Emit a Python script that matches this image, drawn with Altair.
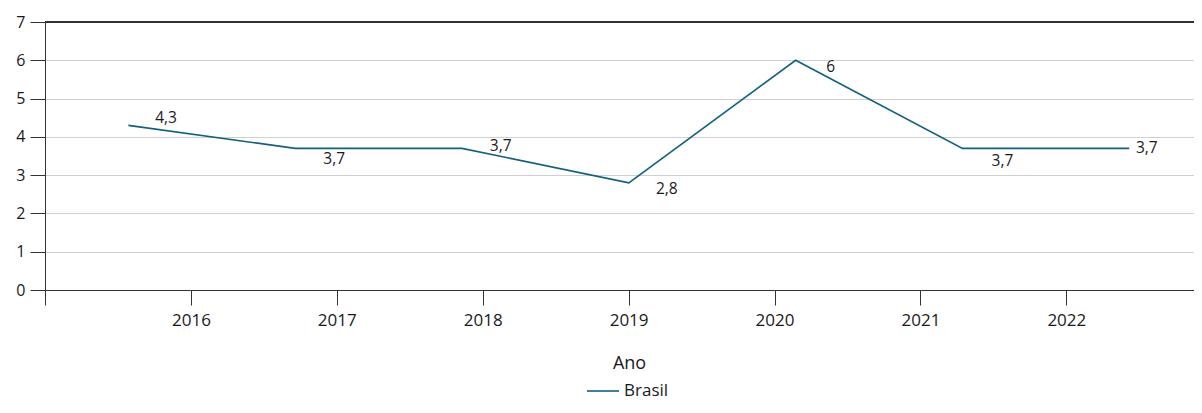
import altair as alt
import pandas as pd

# ---- data ----
anos = [2016, 2017, 2018, 2019, 2020, 2021, 2022]
valores = [4.3, 3.7, 3.7, 2.8, 6.0, 3.7, 3.7]
serie = "Brasil"
rotulos = [f"{v:g}".replace(".", ",") for v in valores]
ticks_y = [0, 1, 2, 3, 4, 5, 6, 7]
ticks_x = [2015, 2016, 2017, 2018, 2019, 2020, 2021, 2022]

df = pd.DataFrame({"ano": anos, "valor": valores, "rotulo": rotulos,
                   "serie": [serie] * len(anos)})
df_ticks = pd.DataFrame({"ano": ticks_x})

# ---- style ----
W, H = 1149, 268
COLOR = "#13607f"
FONT = "Open Sans"
DARK = "#333333"
TXT = "#1a1a1a"
label_offsets = [(37.7, -7.7), (39, 10.7), (38.7, -2.6), (38, 6.3),
                 (35, 7), (40, 12.4), (17.5, 0)]

yscale = alt.Scale(domain=[0, 7], nice=False, zero=True)
line_xscale = alt.Scale(domain=[2015.5, 2022.388], nice=False, zero=False)
yaxis = alt.Axis(values=ticks_y, tickCount=8, labelOverlap=False, grid=True,
                 gridColor="#d0d0d0", domainColor=DARK, tickColor=DARK,
                 tickSize=15, labelFont=FONT, labelFontSize=16,
                 labelColor=TXT, labelPadding=5, title=None)

axis_layer = alt.Chart(df_ticks).mark_point(opacity=0).encode(
    x=alt.X("ano:Q",
            scale=alt.Scale(domain=[2015, 2022.875], nice=False, zero=False),
            axis=alt.Axis(values=ticks_x, format="d",
                          labelExpr="datum.value == 2015 ? '' : datum.label",
                          tickSize=15, tickColor=DARK, domainColor=DARK,
                          labelFont=FONT, labelFontSize=17, labelColor=TXT,
                          labelPadding=7, grid=False,
                          title="Ano", titleFont=FONT, titleFontSize=18,
                          titleFontWeight="normal", titleColor=TXT,
                          titleX=584, titleY=73, titleBaseline="middle",
                          titleAnchor="start", titleAlign="center")),
)

line = alt.Chart(df).mark_line(strokeWidth=1.6).encode(
    x=alt.X("ano:Q", scale=line_xscale, axis=None),
    y=alt.Y("valor:Q", scale=yscale, axis=yaxis),
    color=alt.Color("serie:N", scale=alt.Scale(range=[COLOR]),
                    legend=alt.Legend(orient="none", legendX=541, legendY=352,
                                      title=None, symbolType="stroke",
                                      symbolSize=1024, symbolStrokeWidth=1.6,
                                      labelFont=FONT, labelFontSize=17,
                                      labelColor=TXT)),
)

top_rule = alt.Chart(df_ticks).mark_rule(color=DARK, strokeWidth=1).encode(
    y=alt.YDatum(7, scale=yscale, axis=yaxis)
)

texts = []
for ano, (dx, dy) in zip(anos, label_offsets):
    texts.append(
        alt.Chart(df).transform_filter(alt.datum.ano == ano).mark_text(
            dx=dx, dy=dy, font=FONT, fontSize=15.5, color=TXT,
            align="center", baseline="middle"
        ).encode(
            x=alt.X("ano:Q", scale=line_xscale, axis=None),
            y=alt.Y("valor:Q", scale=yscale, axis=yaxis),
            text="rotulo:N",
        )
    )

chart = alt.layer(axis_layer, top_rule, line, *texts).resolve_scale(
    x="independent"
).properties(
    width=W, height=H,
    autosize=alt.AutoSizeParams(type="none"),
    padding={"left": 37, "top": 14, "right": 0, "bottom": 115},
).configure_view(stroke=None)

chart.save("out.html", embed_options={"renderer": "svg", "actions": False})
